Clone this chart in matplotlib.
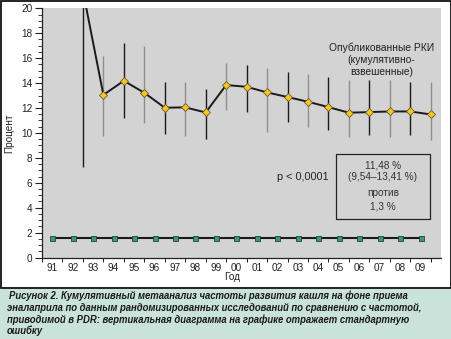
import matplotlib
matplotlib.use("Agg")
import matplotlib.pyplot as plt
from matplotlib.patches import Rectangle
from matplotlib.ticker import MultipleLocator, FixedLocator, NullFormatter
import numpy as np

plt.rcParams['font.family'] = ['Liberation Sans', 'DejaVu Sans']

year_labels = ['91', '92', '93', '94', '95', '96', '97', '98', '99', '00',
               '01', '02', '03', '04', '05', '06', '07', '08', '09']
pdr_values = [1.6] * 19

# cumulative published RCT estimates, 92..09
rct_years = ['92', '93', '94', '95', '96', '97', '98', '99', '00',
             '01', '02', '03', '04', '05', '06', '07', '08', '09']
rct_values = [21.4, 13.05, 14.18, 13.22, 12.02, 12.05, 11.64, 13.84, 13.7,
              13.25, 12.88, 12.5, 12.07, 11.62, 11.67, 11.72, 11.72, 11.48]
rct_low = [7.23, 9.75, 11.16, 10.76, 9.88, 9.74, 9.48, 11.83, 11.7,
           10.09, 10.89, 10.49, 10.22, 9.69, 9.82, 9.69, 9.82, 9.42]
rct_high = [35.0, 16.18, 17.24, 17.0, 14.05, 14.1, 13.49, 15.58, 15.45,
            15.18, 14.91, 14.72, 14.51, 14.24, 14.24, 14.24, 14.1, 14.05]

W, H = 452, 339
fig = plt.figure(figsize=(W / 100, H / 100), dpi=100)
fig.patch.set_facecolor('white')

# caption background
fig.patches.append(Rectangle((0, 0), 1, (H - 288.5) / H, transform=fig.transFigure,
                             facecolor='#c9e2da', edgecolor='none', zorder=0))
# black frame around chart panel
fig.patches.append(Rectangle((0.6 / W, (H - 288) / H), (W - 1.8) / W, (288 - 0.8) / H,
                             transform=fig.transFigure, facecolor='none',
                             edgecolor='#111111', linewidth=1.3, zorder=1))

ax = fig.add_axes([42 / W, (H - 257.5) / H, (441 - 42) / W, (257.5 - 8.3) / H])
ax.set_facecolor('#d3d3d4')
for s in ['top', 'right']:
    ax.spines[s].set_visible(False)
for s in ['left', 'bottom']:
    ax.spines[s].set_color('#222222')
    ax.spines[s].set_linewidth(0.9)

x_pdr = np.arange(len(year_labels))
x_rct = np.array([year_labels.index(y) for y in rct_years]) + 0.5

# error bars (alternating black / grey)
for i, (xx, lo, hi) in enumerate(zip(x_rct, rct_low, rct_high)):
    col = '#1a1a1a' if i % 2 == 0 else '#8e8e8e'
    ax.plot([xx, xx], [lo, hi], color=col, linewidth=1.0, zorder=2, solid_capstyle='butt')

ax.plot(x_rct, rct_values, color='#1a1a1a', linewidth=1.4, zorder=3,
        marker='D', markersize=4.2, markerfacecolor='#f4c62c',
        markeredgecolor='#6e5a16', markeredgewidth=0.6)

ax.plot(x_pdr, pdr_values, color='#1a1a1a', linewidth=1.5, zorder=3,
        marker='s', markersize=3.6, markerfacecolor='#3d9a6b',
        markeredgecolor='#1b4530', markeredgewidth=0.6)

ax.set_xlim(-0.5, 19.0)
ax.set_ylim(0, 20)

ax.yaxis.set_major_locator(MultipleLocator(2))
ax.yaxis.set_minor_locator(MultipleLocator(0.5))
ax.tick_params(axis='y', which='major', length=5, width=0.8, labelsize=7.2,
               colors='#222222', pad=2)
ax.tick_params(axis='y', which='minor', length=3, width=0.6, colors='#222222')

ax.xaxis.set_major_locator(FixedLocator(x_pdr))
ax.set_xticklabels(year_labels)
ax.xaxis.set_minor_locator(FixedLocator(np.arange(-0.5, 19.0, 1.0)))
ax.xaxis.set_minor_formatter(NullFormatter())
ax.tick_params(axis='x', which='major', length=0, labelsize=7.2,
               colors='#222222', pad=4)
ax.tick_params(axis='x', which='minor', length=3, width=0.7, colors='#222222')

fig.text(9 / W, 1 - 133 / H, 'Процент', rotation=90, ha='center', va='center',
         fontsize=7.2, color='#222222')
fig.text(232 / W, 1 - 277 / H, 'Год', ha='center', va='center',
         fontsize=7.2, color='#222222')

fig.text(381.5 / W, 1 - 47.3 / H, 'Опубликованные РКИ', ha='center', va='center',
         fontsize=7.4, color='#222222')
fig.text(381.5 / W, 1 - 59.8 / H, '(кумулятивно-', ha='center', va='center',
         fontsize=7.4, color='#222222')
fig.text(381.5 / W, 1 - 71.7 / H, 'взвешенные)', ha='center', va='center',
         fontsize=7.4, color='#222222')

fig.text(303 / W, 1 - 177 / H, 'p < 0,0001', ha='center', va='center',
         fontsize=7.8, color='#222222')

# result box
fig.patches.append(Rectangle((336 / W, 1 - 219 / H), (430 - 336) / W, (219 - 154) / H,
                             transform=fig.transFigure, facecolor='none',
                             edgecolor='#222222', linewidth=0.9, zorder=5))
for yy, t in [(165, '11,48 %'), (177.3, '(9,54–13,41 %)'), (193.3, 'против'), (206.7, '1,3 %')]:
    fig.text(383 / W, 1 - yy / H, t, ha='center', va='center', fontsize=7.2,
             color='#333333', zorder=6)

caption = ['Рисунок 2. Кумулятивный метаанализ частоты развития кашля на фоне приема',
           'эналаприла по данным рандомизированных исследований по сравнению с частотой,',
           'приводимой в PDR: вертикальная диаграмма на графике отражает стандартную',
           'ошибку']
cap_y = [295.7, 307.8, 319.3, 330.5]
cap_x = [9, 7, 7, 7]
for t, yy, xx in zip(caption, cap_y, cap_x):
    fig.text(xx / W, 1 - yy / H, t, ha='left', va='center', fontsize=6.85,
             fontweight='bold', fontstyle='italic', color='#1a1a1a')

fig.savefig('out.png', dpi=100)
